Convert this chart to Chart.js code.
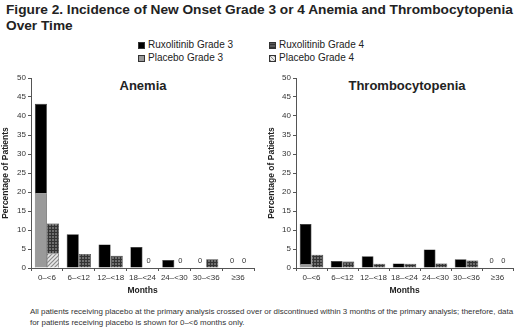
<!DOCTYPE html>
<html>
<head>
<meta charset="utf-8">
<script src="https://cdn.jsdelivr.net/npm/chart.js@4.4.1/dist/chart.umd.min.js"></script>
<style>
  body { margin: 0; width: 520px; height: 328px; background: #fff; position: relative; overflow: hidden;
         font-family: "Liberation Sans", Arial, sans-serif; color: #222; }
  .title { position: absolute; left: 6px; top: 2px; font-weight: bold; font-size: 13.7px; line-height: 15.5px; }
  .legend { position: absolute; font-size: 10px; line-height: 12px; white-space: nowrap; }
  .sw { position: absolute; width: 7px; height: 7px; box-sizing: border-box; border: 0.5px solid #333; }
  .panel { position: absolute; font-weight: bold; font-size: 13px; transform: translateX(-50%); white-space: nowrap; }
  .box { position: absolute; top: 70px; height: 232px; }
  .note { position: absolute; left: 30px; top: 307px; font-size: 7.95px; line-height: 10.5px; color: #333; white-space: nowrap; }
</style>
</head>
<body>
<div class="title">Figure 2. Incidence of New Onset Grade 3 or 4 Anemia and Thrombocytopenia<br>Over Time</div>

<div id="legend"></div>

<div class="panel" style="left:143px; top:78px;">Anemia</div>
<div class="panel" style="left:407px; top:78px;">Thrombocytopenia</div>

<div class="box" style="left:0; width:260px;"><canvas id="anemiaChart"></canvas></div>
<div class="box" style="left:262px; width:258px;"><canvas id="thromboChart"></canvas></div>

<div class="note">All patients receiving placebo at the primary analysis crossed over or discontinued within 3 months of the primary analysis; therefore, data<br>for patients receiving placebo is shown for 0–&lt;6 months only.</div>

<script>
// ------------------------- DATA -------------------------
const months = ['0–<6', '6–<12', '12–<18', '18–<24', '24–<30', '30–<36', '≥36'];

// Anemia (% of patients)
const anemiaRuxG3     = [23.5, 8.9, 6.2, 5.5, 2.1, 0, 0];
const anemiaPlaceboG3 = [19.7, null, null, null, null, null, null];
const anemiaRuxG4     = [7.9, 3.7, 3.2, 0, 0, 2.3, 0];
const anemiaPlaceboG4 = [3.8, null, null, null, null, null, null];

// Thrombocytopenia (% of patients)
const thromboRuxG3     = [10.5, 1.85, 3.1, 1.2, 4.9, 2.3, 0];
const thromboPlaceboG3 = [1.05, null, null, null, null, null, null];
const thromboRuxG4     = [3.5, 1.7, 1.15, 1.1, 1.2, 2.0, 0];
const thromboPlaceboG4 = [0, null, null, null, null, null, null];

const yTicks = { min: 0, max: 50, step: 5 };

const FONT = '"Liberation Sans", Arial, sans-serif';

// ------------------------- PATTERNS -------------------------
function checkerPattern() {
  const c = document.createElement('canvas');
  c.width = 3; c.height = 3;
  const g = c.getContext('2d');
  g.fillStyle = '#6e6e6e'; g.fillRect(0, 0, 3, 3);
  g.fillStyle = '#333';
  g.fillRect(0, 0, 3, 1);
  g.fillRect(0, 0, 1, 3);
  return g.createPattern(c, 'repeat');
}

function hatchPattern() {
  const c = document.createElement('canvas');
  c.width = 4; c.height = 4;
  const g = c.getContext('2d');
  g.fillStyle = '#e8e8e8'; g.fillRect(0, 0, 4, 4);
  g.strokeStyle = '#8a8a8a'; g.lineWidth = 1.2;
  g.beginPath();
  g.moveTo(0, 4); g.lineTo(4, 0);
  g.moveTo(-1, 1); g.lineTo(1, -1);
  g.moveTo(3, 5); g.lineTo(5, 3);
  g.stroke();
  return g.createPattern(c, 'repeat');
}

const FILL = {
  ruxG3: '#000',
  placeboG3: '#9a9a9a',
  ruxG4: checkerPattern(),
  placeboG4: hatchPattern()
};

// ------------------------- LEGEND (html) -------------------------
const legendItems = [
  { label: 'Ruxolitinib Grade 3', css: 'background:#000', x: 138, y: 39 },
  { label: 'Ruxolitinib Grade 4', css: 'background:#5a5a5a repeating-linear-gradient(0deg,#333 0 1px,transparent 1px 3px)', x: 269, y: 39 },
  { label: 'Placebo Grade 3', css: 'background:#9a9a9a', x: 138, y: 52 },
  { label: 'Placebo Grade 4', css: 'background:repeating-linear-gradient(45deg,#8a8a8a 0 1px,#e8e8e8 1px 3px)', x: 269, y: 52 }
];
const legendEl = document.getElementById('legend');
legendItems.forEach(it => {
  legendEl.insertAdjacentHTML('beforeend',
    `<div class="sw" style="left:${it.x}px; top:${it.y + 2.5}px; ${it.css}"></div>` +
    `<div class="legend" style="left:${it.x + 10}px; top:${it.y}px;">${it.label}</div>`);
});

// ------------------------- ZERO LABELS -------------------------
const zeroLabels = {
  id: 'zeroLabels',
  afterDatasetsDraw(chart) {
    const ctx = chart.ctx;
    const ds = chart.data.datasets;
    const y0 = chart.scales.y.getPixelForValue(0);
    ctx.save();
    ctx.font = '7.5px ' + FONT;
    ctx.fillStyle = '#333';
    ctx.textAlign = 'center';
    ctx.textBaseline = 'middle';
    ['g3', 'g4'].forEach(stack => {
      const idx = ds.map((d, i) => i).filter(i => ds[i].stack === stack);
      chart.data.labels.forEach((_, j) => {
        const total = idx.reduce((s, i) => s + (ds[i].data[j] || 0), 0);
        if (total === 0) {
          const rux = idx.find(i => ds[i].data[j] !== null);
          const el = chart.getDatasetMeta(rux).data[j];
          ctx.fillText('0', el.x, y0 - 7);
        }
      });
    });
    ctx.restore();
  }
};

// ------------------------- CHART BUILDER -------------------------
function makeChart(id, d, yWidth, titlePad, rightPad) {
  const bar = (label, data, stack, fill) => ({
    label, data, stack,
    backgroundColor: fill,
    borderColor: '#222',
    borderWidth: 0.6,
    categoryPercentage: 0.76,
    barPercentage: 1.0
  });

  return new Chart(document.getElementById(id).getContext('2d'), {
    type: 'bar',
    data: {
      labels: months,
      datasets: [
        bar('Placebo Grade 3', d.placeboG3, 'g3', FILL.placeboG3),
        bar('Ruxolitinib Grade 3', d.ruxG3, 'g3', FILL.ruxG3),
        bar('Placebo Grade 4', d.placeboG4, 'g4', FILL.placeboG4),
        bar('Ruxolitinib Grade 4', d.ruxG4, 'g4', FILL.ruxG4)
      ]
    },
    options: {
      responsive: true,
      maintainAspectRatio: false,
      animation: false,
      layout: { padding: { top: 8, right: rightPad, bottom: 6, left: 0 } },
      plugins: { legend: { display: false }, tooltip: { enabled: false } },
      scales: {
        x: {
          stacked: true,
          offset: true,
          grid: { drawOnChartArea: false, drawTicks: true, tickLength: 3, color: '#555', offset: true },
          border: { display: true, color: '#555', width: 1 },
          ticks: { color: '#333', font: { size: 8, family: FONT }, padding: 2, maxRotation: 0, autoSkip: false },
          title: { display: true, text: 'Months', color: '#222', font: { size: 8.5, weight: 'bold', family: FONT }, padding: { top: 2, bottom: 0 } },
          afterFit: s => { s.height = 28; }
        },
        y: {
          stacked: true,
          min: yTicks.min,
          max: yTicks.max,
          grid: { drawOnChartArea: false, drawTicks: true, tickLength: 3, color: '#555' },
          border: { display: true, color: '#555', width: 1 },
          ticks: { stepSize: yTicks.step, color: '#333', font: { size: 8, family: FONT }, padding: 2 },
          title: { display: true, text: 'Percentage of Patients', color: '#222', font: { size: 8.5, weight: 'bold', family: FONT }, padding: { top: titlePad, bottom: 0 } },
          afterFit: s => { s.width = yWidth; }
        }
      }
    },
    plugins: [zeroLabels]
  });
}

makeChart('anemiaChart', {
  ruxG3: anemiaRuxG3, placeboG3: anemiaPlaceboG3, ruxG4: anemiaRuxG4, placeboG4: anemiaPlaceboG4
}, 31, 1, 6);

makeChart('thromboChart', {
  ruxG3: thromboRuxG3, placeboG3: thromboPlaceboG3, ruxG4: thromboRuxG4, placeboG4: thromboPlaceboG4
}, 34, 5, 7);
</script>
</body>
</html>
